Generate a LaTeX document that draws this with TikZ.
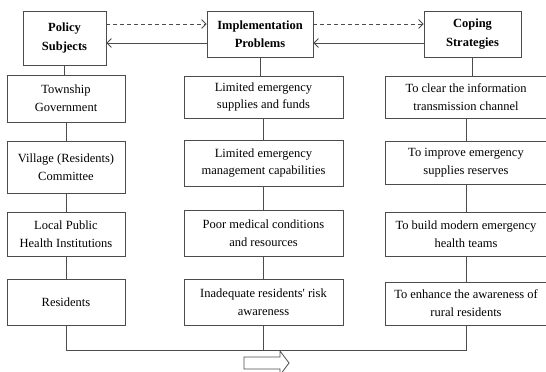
\documentclass[tikz,border=0pt]{standalone}
\usepackage{fontspec}
\setmainfont{Liberation Serif}
\usetikzlibrary{arrows.meta}

\begin{document}
\begin{tikzpicture}[x=1pt, y=-1pt,
    box/.style = {draw=black!70, line width=0.8pt, align=center, inner sep=0pt,
                  font=\fontsize{12.5}{17.7}\selectfont},
    head/.style = {box, font=\bfseries\fontsize{12.5}{18.3}\selectfont},
    link/.style = {draw=black!70, line width=0.8pt},
    freccia/.style = {link, -{Straight Barb[length=4.5pt, width=9pt]}}]
    % Area
    \useasboundingbox (0,0) rectangle (546,372);
    % Intestazioni
    \node[head, minimum width=83, minimum height=54] (pol) at (64.5,38) {Policy\\Subjects};
    \node[head, minimum width=106, minimum height=46] (imp) at (260,34) {Implementation\\Problems};
    \node[head, minimum width=97, minimum height=46] (cop) at (472.5,34) {Coping\\Strategies};
    % Frecce tra le intestazioni
    \draw[freccia, dash pattern=on 4pt off 3pt] (pol.east |- 0,24) -- (imp.west |- 0,24);
    \draw[freccia] (imp.west |- 0,43) -- (pol.east |- 0,43);
    \draw[freccia, dash pattern=on 4pt off 3pt] (imp.east |- 0,24) -- (cop.west |- 0,24);
    \draw[freccia] (cop.west |- 0,43) -- (imp.east |- 0,43);
    % Colonna sinistra
    \node[box, minimum width=118, minimum height=47] (town) at (66,98.5) {Township\\Government};
    \node[box, minimum width=118, minimum height=52] (vil) at (66,167) {Village (Residents)\\Committee};
    \node[box, minimum width=118, minimum height=44] (hlth) at (66,234) {Local Public\\Health Institutions};
    \node[box, minimum width=118, minimum height=46] (res) at (66,302) {Residents};
    % Colonna centrale
    \node[box, minimum width=159, minimum height=42] (supp) at (263.5,97) {Limited emergency\\supplies and funds};
    \node[box, minimum width=159, minimum height=46] (mgmt) at (263.5,163) {Limited emergency\\management capabilities};
    \node[box, minimum width=159, minimum height=46] (med) at (263.5,233) {Poor medical conditions\\and resources};
    \node[box, minimum width=159, minimum height=46] (inad) at (263.5,302) {Inadequate residents\textquotesingle\ risk\\awareness};
    % Colonna destra
    \node[box, minimum width=162, minimum height=42] (clr) at (466,97) {To clear the information\\transmission channel};
    \node[box, minimum width=162, minimum height=43] (impr) at (466,162.5) {To improve emergency\\supplies reserves};
    \node[box, minimum width=162, minimum height=44] (bld) at (466,234) {To build modern emergency\\health teams};
    \node[box, minimum width=162, minimum height=43] (enh) at (466,303.5) {To enhance the awareness of\\rural residents};
    % Collegamenti verticali
    \draw[link] (pol.south) -- (pol.south |- town.north);
    \draw[link] (town.south) -- (vil.north);
    \draw[link] (vil.south) -- (hlth.north);
    \draw[link] (hlth.south) -- (res.north);
    \draw[link] (imp.south) -- (imp.south |- supp.north);
    \draw[link] (supp.south) -- (mgmt.north);
    \draw[link] (mgmt.south) -- (med.north);
    \draw[link] (med.south) -- (inad.north);
    \draw[link] (cop.south) -- (cop.south |- clr.north);
    \draw[link] (clr.south) -- (impr.north);
    \draw[link] (impr.south) -- (bld.north);
    \draw[link] (bld.south) -- (enh.north);
    % Linea di base
    \coordinate (base) at (0,350);
    \draw[link] (res.south) |- (enh.south |- base) -- (enh.south);
    \draw[link] (inad.south) -- (inad.south |- base);
    % Freccia vuota
    \draw[link] (244,357) -- (280,357) -- (280,351) -- (289,363)
        -- (280,375) -- (280,369) -- (244,369) -- cycle;
\end{tikzpicture}
\end{document}
